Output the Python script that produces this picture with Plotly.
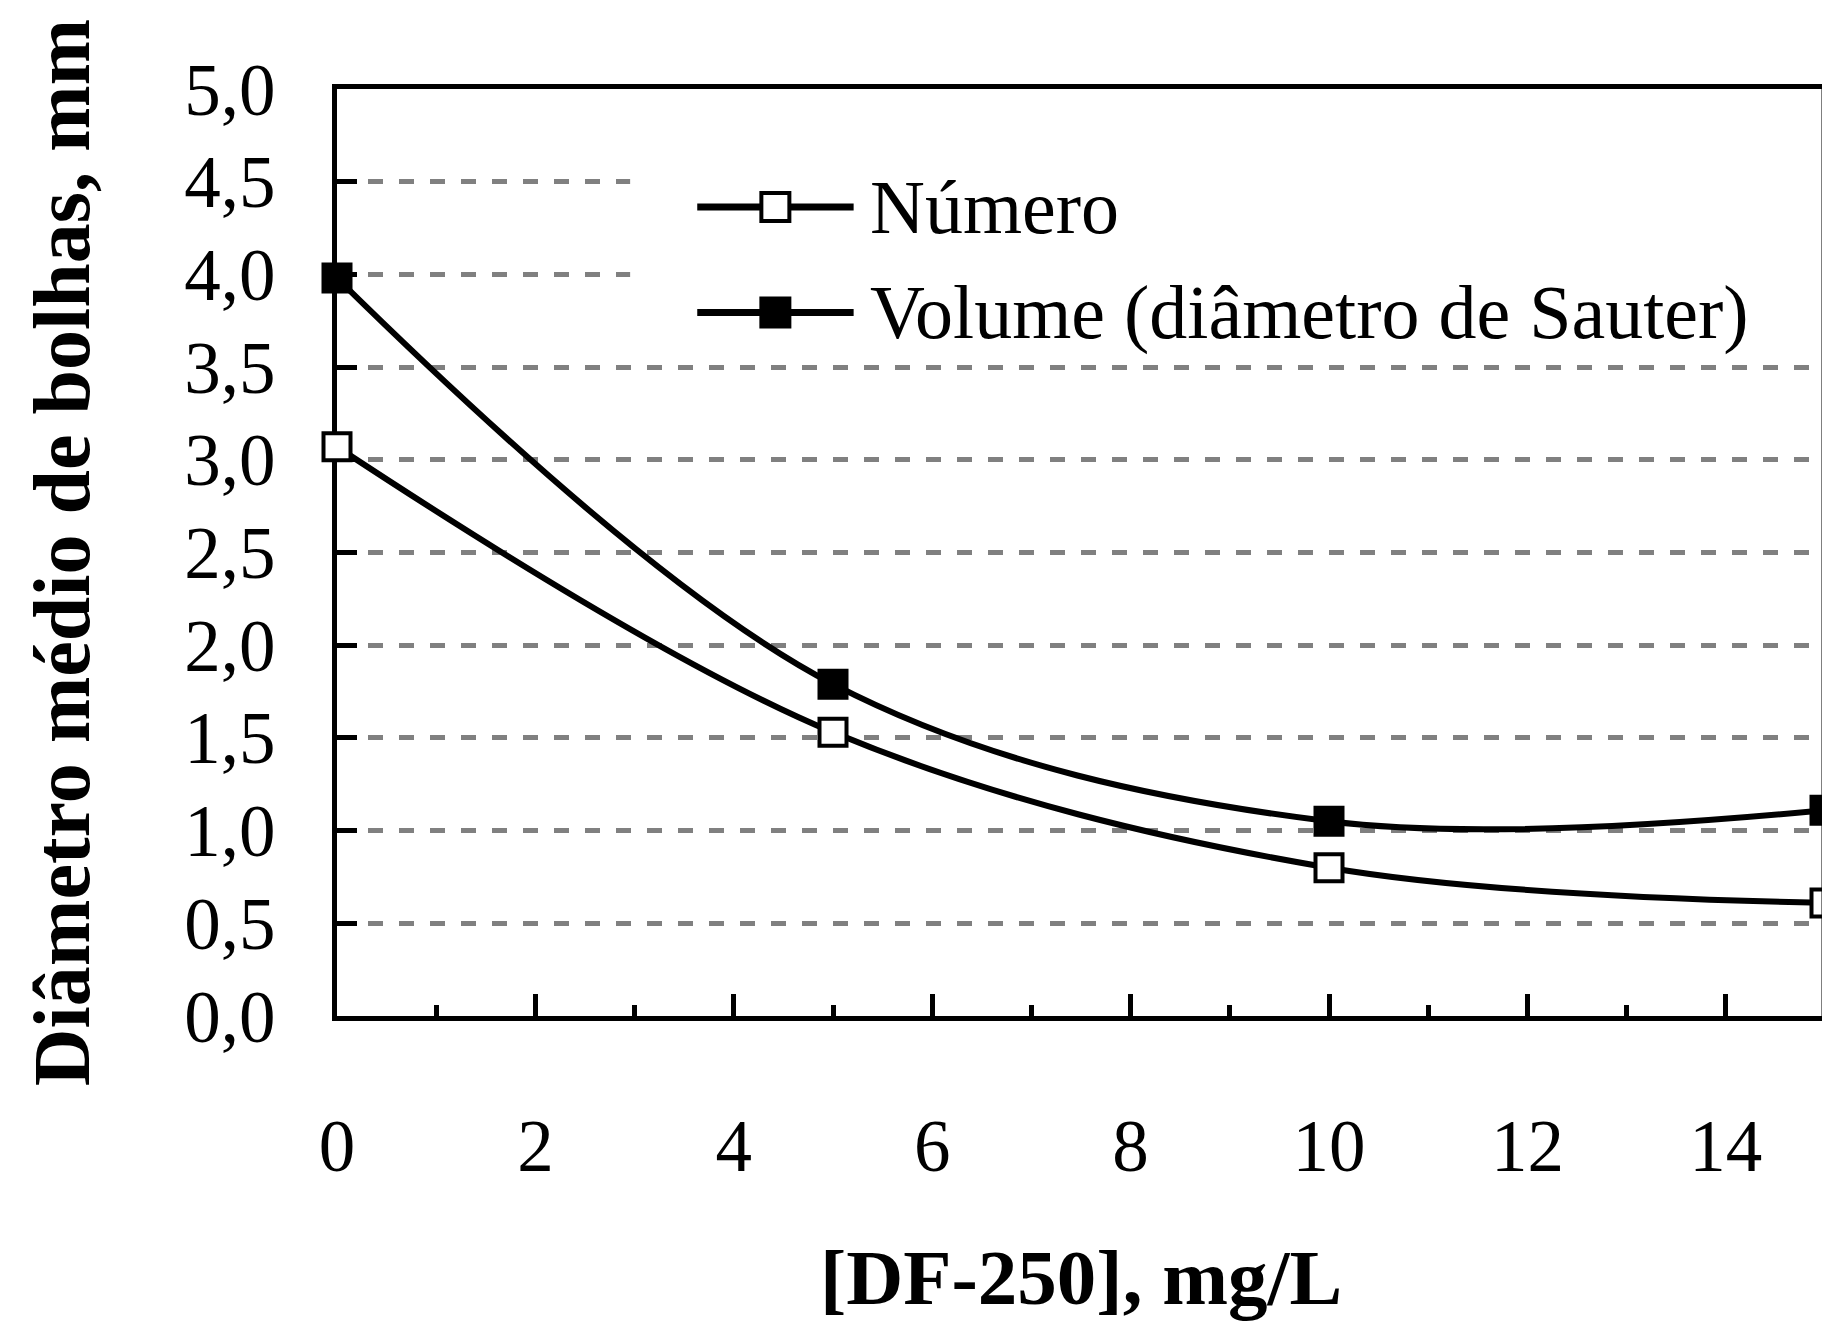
import plotly.graph_objects as go

# Data
conc = [0, 5, 10, 15]
numero = [3.07, 1.53, 0.80, 0.61]
volume = [3.98, 1.79, 1.05, 1.11]
series_names = ["Número", "Volume (diâmetro de Sauter)"]
x_title = "[DF-250], mg/L"
y_title = "Diâmetro médio de bolhas, mm"

FONT = "Liberation Serif, Times New Roman, serif"

fig = go.Figure()
fig.add_trace(go.Scatter(
    x=conc, y=volume, mode="lines+markers", name=series_names[1],
    line=dict(color="black", width=6, shape="spline", smoothing=1.0),
    marker=dict(symbol="square", size=28, color="black", line=dict(color="black", width=3)),
    cliponaxis=False, showlegend=False,
))
fig.add_trace(go.Scatter(
    x=conc, y=numero, mode="lines+markers", name=series_names[0],
    line=dict(color="black", width=6, shape="spline", smoothing=1.0),
    marker=dict(symbol="square", size=27, color="white", line=dict(color="black", width=4)),
    cliponaxis=False, showlegend=False,
))

# custom legend (layout decorations)
leg_rows = [0.8726, 0.759]
fig.add_shape(type="rect", xref="paper", yref="paper", x0=0.197, x1=0.992, y0=0.736, y1=0.943,
              fillcolor="white", line=dict(width=0), layer="above")
for i, (name, fill) in enumerate([(series_names[0], "white"), (series_names[1], "black")]):
    yy = leg_rows[i]
    fig.add_shape(type="line", xref="paper", yref="paper", x0=0.2421, x1=0.3472, y0=yy, y1=yy,
                  line=dict(color="black", width=7), layer="above")
    fig.add_shape(type="rect", xref="paper", yref="paper", xsizemode="pixel", ysizemode="pixel",
                  xanchor=0.2946, yanchor=yy, x0=-14, x1=14, y0=-14, y1=14,
                  fillcolor=fill, line=dict(color="black", width=4), layer="above")
    fig.add_annotation(xref="paper", yref="paper", x=0.357, y=yy, text=name, showarrow=False,
                       xanchor="left", yanchor="middle",
                       font=dict(family=FONT, size=76, color="black"))

# right frame edge (at canvas border)
fig.add_shape(type="line", xref="paper", yref="paper", x0=1, x1=1, y0=0, y1=1,
              line=dict(color="black", width=7), layer="above")

# page body has an 8px margin, so the figure is sized to fit the window
fig.update_layout(
    width=1822, height=1313,
    margin=dict(l=329, r=0, t=81, b=290),
    paper_bgcolor="white", plot_bgcolor="white",
    separators=",.",
    font=dict(family=FONT, color="black"),
)
fig.update_xaxes(
    range=[0, 15], tickvals=[0, 2, 4, 6, 8, 10, 12, 14],
    ticks="inside", ticklen=22, tickwidth=5, tickcolor="black",
    minor=dict(dtick=1, ticks="inside", ticklen=11, tickwidth=5, tickcolor="black", showgrid=False),
    showgrid=False, zeroline=False,
    showline=True, linecolor="black", linewidth=5, mirror=True,
    tickfont=dict(family=FONT, size=73, color="black"),
    ticklabelstandoff=62,
    title=dict(text="<b>" + x_title + "</b>", font=dict(family=FONT, size=79, color="black"), standoff=79),
    layer="below traces",
)
fig.update_yaxes(
    range=[0, 5], dtick=0.5, tickformat=".1f",
    ticks="inside", ticklen=20, tickwidth=5, tickcolor="black",
    showgrid=True, gridcolor="#808080", gridwidth=5, griddash="15px,16px",
    zeroline=False,
    showline=True, linecolor="black", linewidth=5, mirror=True,
    tickfont=dict(family=FONT, size=73, color="black"),
    ticklabelstandoff=42,
    title=dict(text="<b>" + y_title + "</b>", font=dict(family=FONT, size=80, color="black"), standoff=70),
    layer="below traces",
)

fig.write_html("out.html")
